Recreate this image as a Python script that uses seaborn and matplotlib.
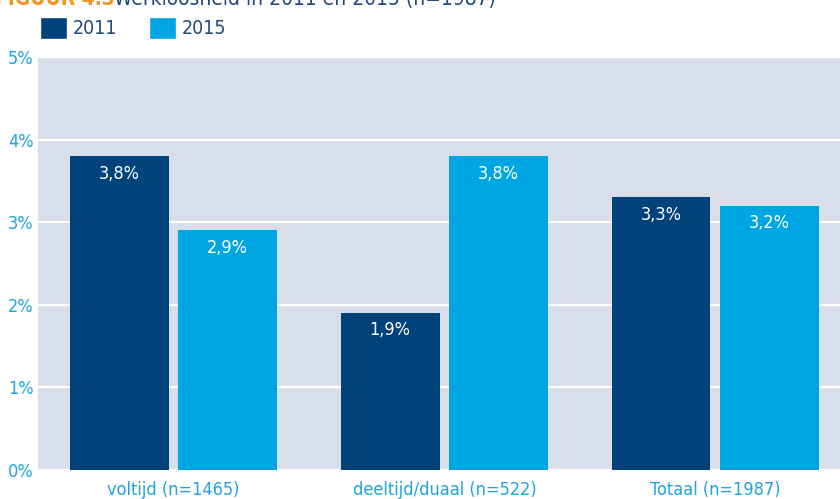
import pandas as pd
import seaborn as sns
import matplotlib.pyplot as plt
from matplotlib.patches import Patch

categories = ["voltijd (n=1465)", "deeltijd/duaal (n=522)", "Totaal (n=1987)"]
years = ["2011", "2015"]
values_2011 = [3.8, 1.9, 3.3]
values_2015 = [2.9, 3.8, 3.2]

dark = "#00437A"
light = "#00A6E2"
bg = "#D9DEEB"
tick_col = "#1FA3DE"
legend_col = "#1F4A7A"

df = pd.DataFrame({
    "Categorie": categories * 2,
    "Jaar": [years[0]] * 3 + [years[1]] * 3,
    "Werkloosheid": values_2011 + values_2015,
})

sns.set_style("white", {"axes.facecolor": bg})
plt.rcParams["font.family"] = ["DejaVu Sans"]
plt.rcParams["font.stretch"] = "condensed"

fig = plt.figure(figsize=(8.4, 4.99), dpi=100)
ax = fig.add_axes([38 / 840, 1 - 470 / 499, 1 - 38 / 840, (470 - 57) / 499])

sns.barplot(data=df, x="Categorie", y="Werkloosheid", hue="Jaar",
            palette=[dark, light], width=0.8, gap=0.09, saturation=1,
            linewidth=0, ax=ax, legend=False)

ax.set_ylim(0, 5)
ax.set_xlim(-0.5, 2.46)
ax.set_yticks([0, 1, 2, 3, 4, 5])
ax.set_yticklabels([f"{v}%" for v in range(6)])
ax.grid(axis="y", color="white", linewidth=1.6)
ax.set_axisbelow(True)
for s in ax.spines.values():
    s.set_visible(False)
ax.tick_params(length=0, labelsize=13, colors=tick_col, pad=3)
ax.tick_params(axis="x", pad=8)
ax.set_xlabel("")
ax.set_ylabel("")

for cont in ax.containers:
    ax.bar_label(cont, labels=[f"{b.get_height():.1f}".replace(".", ",") + "%" for b in cont],
                 label_type="edge", padding=-19, color="white", fontsize=13)

handles = [Patch(facecolor=dark, label="2011"), Patch(facecolor=light, label="2015")]
fig.legend(handles=handles, loc="upper left", bbox_to_anchor=(0.027, 1.002), ncol=2,
           frameon=False, fontsize=14, handlelength=1.4, handleheight=1.4,
           handletextpad=0.3, columnspacing=1.6, labelcolor=legend_col)

fig.text(-0.006, 1 - 5 / 499, "FIGUUR 4.3", color="#F7941D", fontsize=15,
         fontweight="bold", va="baseline")
fig.text(114 / 840, 1 - 5 / 499, "Werkloosheid in 2011 en 2015 (n=1987)",
         color=legend_col, fontsize=15, va="baseline")

fig.savefig("out.png", dpi=100)
